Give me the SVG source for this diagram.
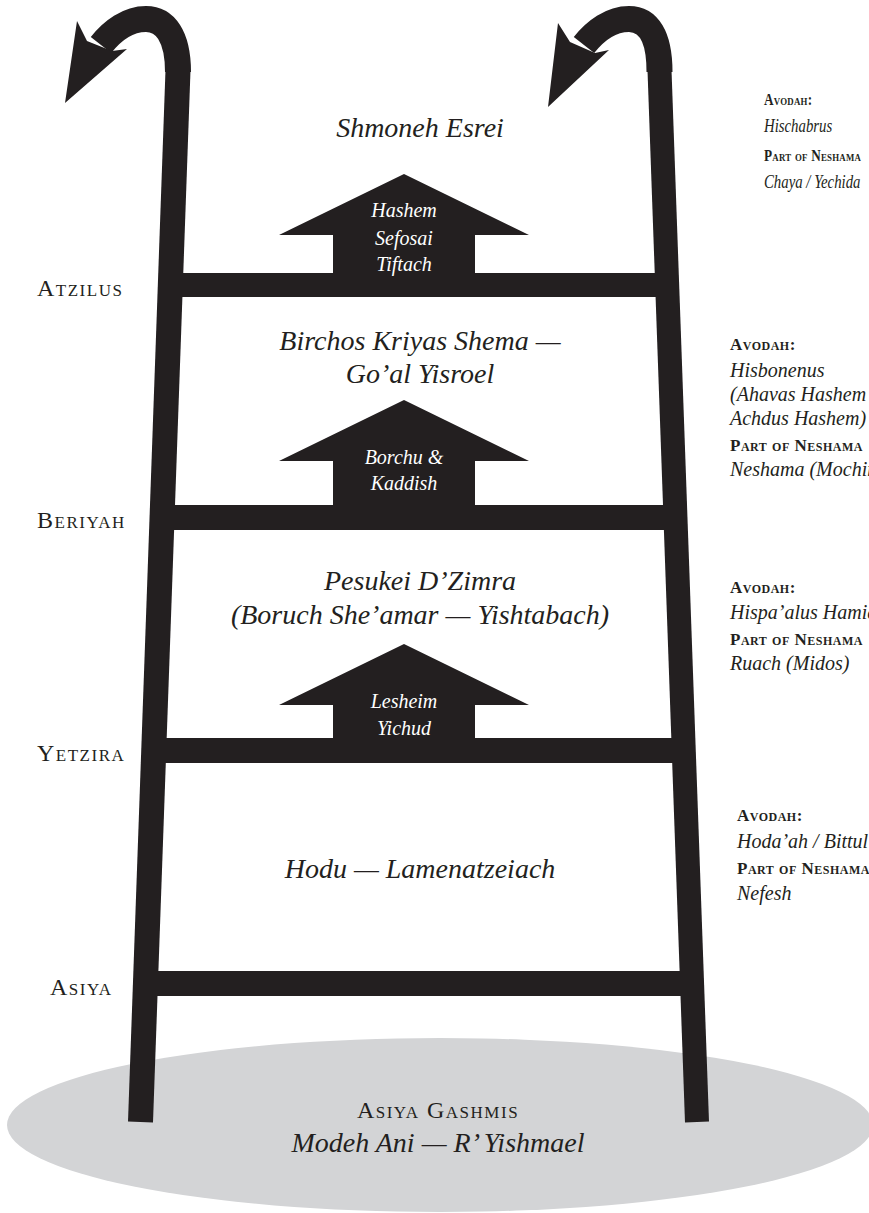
<svg xmlns="http://www.w3.org/2000/svg" width="869" height="1213" viewBox="0 0 869 1213">
<style>
.ink{fill:#231f20}
.bar{stroke:#231f20;fill:none;stroke-linecap:butt}
.main{font-family:"Liberation Serif",serif;font-style:italic;font-size:28px;fill:#231f20;text-anchor:middle}
.atx{font-family:"Liberation Serif",serif;font-style:italic;font-size:20px;fill:#ffffff;text-anchor:middle}
.world{font-family:"Liberation Serif",serif;font-variant:small-caps;font-size:24px;letter-spacing:1.5px;fill:#231f20}
.lbl{font-family:"Liberation Serif",serif;font-variant:small-caps;font-weight:bold;font-size:17px;letter-spacing:0.5px;fill:#231f20}
.val{font-family:"Liberation Serif",serif;font-style:italic;font-size:20px;fill:#231f20}
.lbl1{font-family:"Liberation Serif",serif;font-variant:small-caps;font-weight:bold;font-size:16.5px;letter-spacing:0.3px;fill:#231f20}
.val1{font-family:"Liberation Serif",serif;font-style:italic;font-size:18.5px;fill:#231f20}
</style>
<rect width="869" height="1213" fill="#ffffff"/>
<g id="ground">
<ellipse cx="440" cy="1125" rx="433" ry="87" fill="#d3d4d6"/>
</g>
<g id="connectors">
<line class="bar" x1="178" y1="70" x2="140.5" y2="1122" stroke-width="25"/>
<line class="bar" x1="659.5" y1="70" x2="697" y2="1122" stroke-width="24"/>
<path class="bar" stroke-width="26" d="M178,72 C178,36 165,19 146,19 C128,19 112,31 101,45"/>
<polygon class="ink" points="65,103 77,21 87,41 112,51 127,49"/>
<path class="bar" stroke-width="26" d="M659.5,72 C659.5,36 648,19 629,19 C611,19 595,31 584,45"/>
<polygon class="ink" points="548,107 558,23 570,42 595,53 609,50"/>
<rect class="ink" x="170" y="273" width="497" height="24"/>
<rect class="ink" x="162" y="505" width="513" height="25"/>
<rect class="ink" x="154" y="738" width="530" height="25"/>
<rect class="ink" x="146" y="971" width="546" height="25"/>
</g>
<g id="arrow-hashem-sefosai">
<polygon class="ink" points="404,174 529,235 475,235 475,274 333,274 333,235 279,235"/>
<text class="atx" x="404" y="217">Hashem</text>
<text class="atx" x="404" y="245">Sefosai</text>
<text class="atx" x="404" y="271">Tiftach</text>
</g>
<g id="arrow-borchu">
<polygon class="ink" points="404,400 529,461 475,461 475,506 333,506 333,461 279,461"/>
<text class="atx" x="404" y="464">Borchu &amp;</text>
<text class="atx" x="404" y="490">Kaddish</text>
</g>
<g id="arrow-lesheim">
<polygon class="ink" points="404,644 529,705 475,705 475,739 333,739 333,705 279,705"/>
<text class="atx" x="404" y="708">Lesheim</text>
<text class="atx" x="404" y="735">Yichud</text>
</g>
<g id="level-atzilus">
<text class="main" x="420" y="137">Shmoneh Esrei</text>
<text class="world" x="37" y="296">Atzilus</text>
<g transform="translate(764,0) scale(0.8,1)">
<text class="lbl1" x="0" y="105">Avodah:</text>
<text class="val1" x="0" y="132">Hischabrus</text>
<text class="lbl1" x="0" y="161">Part of Neshama</text>
<text class="val1" x="0" y="188">Chaya / Yechida</text>
</g>
</g>
<g id="level-beriyah">
<text class="main" x="420" y="350">Birchos Kriyas Shema —</text>
<text class="main" x="420" y="383">Go’al Yisroel</text>
<text class="world" x="37" y="528">Beriyah</text>
<text class="lbl" x="730" y="350">Avodah:</text>
<text class="val" x="730" y="377">Hisbonenus</text>
<text class="val" x="730" y="401">(Ahavas Hashem</text>
<text class="val" x="730" y="425">Achdus Hashem)</text>
<text class="lbl" x="730" y="451">Part of Neshama</text>
<text class="val" x="730" y="476">Neshama (Mochin)</text>
</g>
<g id="level-yetzira">
<text class="main" x="420" y="590">Pesukei D’Zimra</text>
<text class="main" x="420" y="624">(Boruch She’amar — Yishtabach)</text>
<text class="world" x="37" y="761">Yetzira</text>
<text class="lbl" x="730" y="593">Avodah:</text>
<text class="val" x="730" y="619">Hispa’alus Hamidos</text>
<text class="lbl" x="730" y="645">Part of Neshama</text>
<text class="val" x="730" y="670">Ruach (Midos)</text>
</g>
<g id="level-asiya">
<text class="main" x="420" y="878">Hodu — Lamenatzeiach</text>
<text class="world" x="50" y="995">Asiya</text>
<text class="lbl" x="737" y="821">Avodah:</text>
<text class="val" x="737" y="848">Hoda’ah / Bittul</text>
<text class="lbl" x="737" y="874">Part of Neshama</text>
<text class="val" x="737" y="900">Nefesh</text>
</g>
<g id="asiya-gashmis">
<text class="world" x="438" y="1118" text-anchor="middle" letter-spacing="2">Asiya Gashmis</text>
<text class="main" x="438" y="1152" font-size="24">Modeh Ani — R’ Yishmael</text>
</g>
</svg>
